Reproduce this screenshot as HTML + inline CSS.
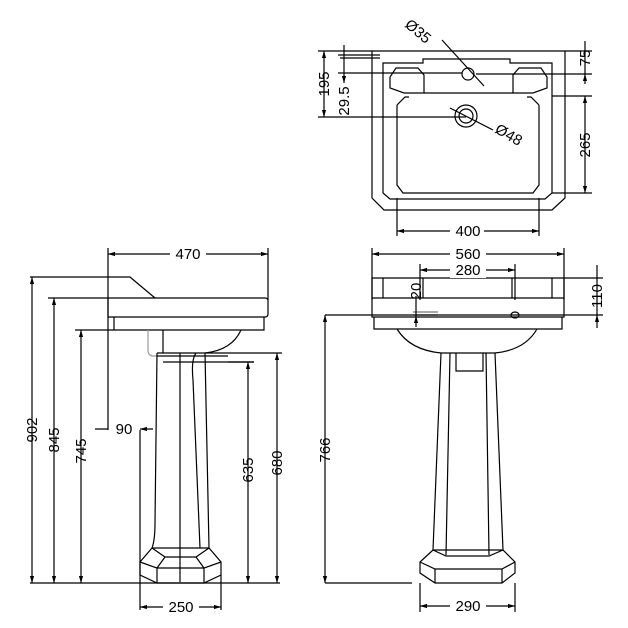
<!DOCTYPE html>
<html><head><meta charset="utf-8"><style>
html,body{margin:0;padding:0;background:#fff;width:628px;height:628px;overflow:hidden}
svg{display:block}
text{font-family:"Liberation Sans",sans-serif;font-size:15px;fill:#000}
</style></head><body>
<svg width="628" height="628" viewBox="0 0 628 628" xmlns="http://www.w3.org/2000/svg">
<defs>
<marker id="a" viewBox="0 0 10 10" refX="10" refY="5" markerWidth="6" markerHeight="6" orient="auto-start-reverse"><path d="M0,2 L10,5 L0,8 z" fill="#000"/></marker>
</defs>
<g fill="none" stroke="#000" stroke-width="1.2">
<!-- TOP VIEW -->
<path d="M372,51 H565 V198 L552,210 H384 L372,198 Z"/>
<path d="M383,63 H423 V59 H510 V63 H552 V193 L545,199 H390 L383,193 Z"/>
<path d="M397,105 L405,97 H409 M539,105 L531,97 H527 M397,105 V185 L403,193 H533 L539,185 V105"/>
<path d="M396,68 H418 L424,75 V93 H410 L404,93 L390,88 V77 Z"/>
<path d="M541,68 H519 L513,75 V93 H527 L533,93 L547,88 V77 Z"/>
<path d="M424,93 H513"/>
<circle cx="468" cy="74" r="6"/>
<circle cx="466" cy="116" r="11"/><circle cx="466" cy="116" r="7"/>
<path d="M442,40 L484,86 M450,108 L493,130"/>
<path d="M318,51 H372 M318,117 H466 M338,55 H380 M338,73 H462 M340,58 H380 M565,51 H592 M476,74 H592 M552,96 H592 M552,193 H592 M397,198 V236 M539,198 V236"/>
<path d="M324,51 V117" marker-start="url(#a)" marker-end="url(#a)"/>
<path d="M344,45 V55 M344,73 V83" marker-end="url(#a)"/>
<path d="M344,55 V73"/>
<path d="M585,41 V51 M585,84 V74" marker-end="url(#a)"/>
<path d="M585,51 V74"/>
<path d="M585,96 V193" marker-start="url(#a)" marker-end="url(#a)"/>
<path d="M397,231 H539" marker-start="url(#a)" marker-end="url(#a)"/>

<!-- SIDE VIEW -->
<path d="M108,298 H265 Q268,298 268,301 V314 Q268,317 265,317 H108 Z"/>
<path d="M114,317 V330 H264 V317"/>
<path d="M30,277 H130 L155,298"/>
<path d="M241,330 Q232,350 205,353"/>
<path d="M148,330 V350 Q148,355 152,356 H157" stroke="#999"/>
<path d="M163,330 V353"/>
<path d="M157,353 H205"/>
<path d="M157,353 L155,523 Q155,540 152,548 M205,353 L209,548 M196,353 Q191,360 193,380 L200,548 M180,353 V582"/>
<path d="M152,548 L140,562 V575 L157,583 H204 L221,575 V562 L209,548 Z"/>
<path d="M152,548 L165,557 H196 L209,548 M140,562 L157,568 V583 M221,562 L204,568 V583 M165,557 L157,568 M196,557 L204,568 M157,568 H204"/>
<path d="M157,356 H228 M163,362 H254"/>
<path d="M108,248 V430 M268,248 V300 M30,583 H280 M48,298 H108 M75,330 H114 M205,353 H282 M228,362 H254 M140,430 V610 M221,575 V610"/>
<path d="M108,254 H268" marker-start="url(#a)" marker-end="url(#a)"/>
<path d="M32,277 V583" marker-start="url(#a)" marker-end="url(#a)"/>
<path d="M54,298 V583" marker-start="url(#a)" marker-end="url(#a)"/>
<path d="M81,330 V583" marker-start="url(#a)" marker-end="url(#a)"/>
<path d="M248,362 V583" marker-start="url(#a)" marker-end="url(#a)"/>
<path d="M277,353 V583" marker-start="url(#a)" marker-end="url(#a)"/>
<path d="M95,429 H108 M153,429 H140" marker-end="url(#a)"/>
<path d="M140,607 H221" marker-start="url(#a)" marker-end="url(#a)"/>

<!-- FRONT VIEW -->
<path d="M372,278 H564 V317 H372 Z M372,298 H564 M383,278 V298 M552,278 V298 M423,278 V298 M512,278 V298"/>
<path d="M374,317 V329 H562 V317"/>
<path d="M397,329 Q410,350 441,353 M537,329 Q525,350 495,353"/>
<path d="M441,353 H495 M441,353 L433,550 M495,353 L503,550 M450,353 L446,555 M486,353 L489,555 M456,353 V371 H483 V353"/>
<path d="M433,550 L420,562 V573 L435,583 H502 L515,573 V562 L503,550 Z"/>
<path d="M433,550 L446,556 H489 L503,550 M420,562 L435,569 H502 L515,562 M435,569 V583 M502,569 V583"/>
<path d="M413,312 H438 M413,315 H438" stroke="#777"/>
<ellipse cx="515" cy="315" rx="4" ry="3"/>
<path d="M372,248 V300 M564,248 V300 M420,264 V300 M515,264 V300 M564,278 H603 M325,315 H603 M325,583 H412 M420,583 V612 M515,583 V612"/>
<path d="M372,254 H564" marker-start="url(#a)" marker-end="url(#a)"/>
<path d="M420,270 H515" marker-start="url(#a)" marker-end="url(#a)"/>
<path d="M325,315 V583" marker-start="url(#a)" marker-end="url(#a)"/>
<path d="M597,265 V278 M597,328 V315" marker-end="url(#a)"/>
<path d="M597,278 V315"/>
<path d="M416,296 V307 M416,327 V316" marker-end="url(#a)"/>
<path d="M416,307 V316"/>
<path d="M420,606 H515" marker-start="url(#a)" marker-end="url(#a)"/>
</g>
<g>
<rect x="450" y="223" width="34" height="16" fill="#fff"/>
<text x="468" y="236" text-anchor="middle">400</text>
<text x="0" y="0" transform="translate(404,26) rotate(40)">Ø35</text>
<text x="0" y="0" transform="translate(494,132) rotate(30)">Ø48</text>
<text transform="translate(329,84) rotate(-90)" text-anchor="middle">195</text>
<text transform="translate(349,101) rotate(-90)" text-anchor="middle">29.5</text>
<text transform="translate(590,58) rotate(-90)" text-anchor="middle">75</text>
<text transform="translate(590,145) rotate(-90)" text-anchor="middle">265</text>
<rect x="170" y="246" width="36" height="16" fill="#fff"/>
<text x="188" y="259" text-anchor="middle">470</text>
<text transform="translate(37,430) rotate(-90)" text-anchor="middle">902</text>
<text transform="translate(59,440) rotate(-90)" text-anchor="middle">845</text>
<text transform="translate(86,451) rotate(-90)" text-anchor="middle">745</text>
<text transform="translate(253,470) rotate(-90)" text-anchor="middle">635</text>
<text transform="translate(282,463) rotate(-90)" text-anchor="middle">680</text>
<text x="124" y="434" text-anchor="middle">90</text>
<rect x="163" y="599" width="36" height="16" fill="#fff"/>
<text x="181" y="612" text-anchor="middle">250</text>
<rect x="450" y="246" width="36" height="16" fill="#fff"/>
<text x="468" y="259" text-anchor="middle">560</text>
<rect x="450" y="262" width="36" height="16" fill="#fff"/>
<text x="468" y="275" text-anchor="middle">280</text>
<text transform="translate(330,450) rotate(-90)" text-anchor="middle">766</text>
<text transform="translate(602,296) rotate(-90)" text-anchor="middle">110</text>
<text transform="translate(421,291) rotate(-90)" text-anchor="middle">20</text>
<rect x="450" y="598" width="36" height="16" fill="#fff"/>
<text x="468" y="611" text-anchor="middle">290</text>
</g>
</svg>
</body></html>
